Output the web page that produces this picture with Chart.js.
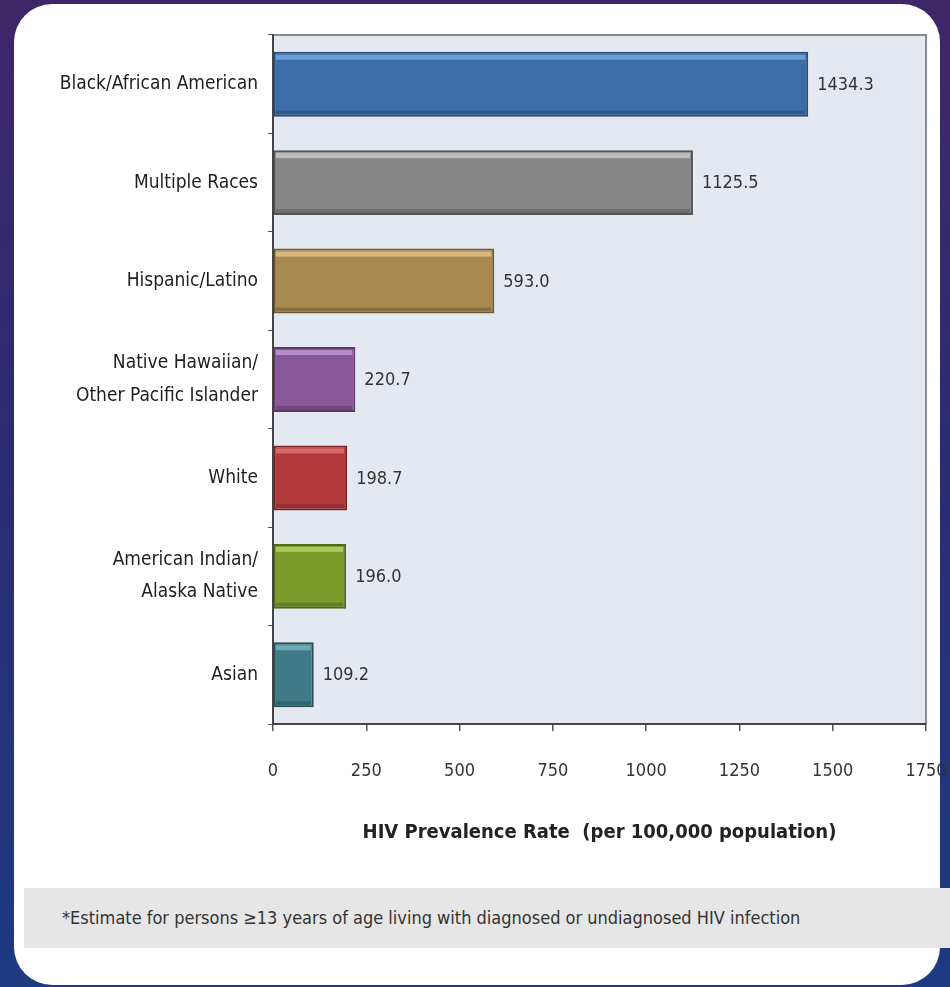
<!DOCTYPE html>
<html>
<head>
<meta charset="utf-8">
<script src="https://cdn.jsdelivr.net/npm/chart.js@4.4.1/dist/chart.umd.min.js"></script>
<style>
  html, body { margin: 0; padding: 0; }
  body {
    width: 950px; height: 987px; overflow: hidden; position: relative;
    background: linear-gradient(to bottom, #3e2668 0%, #2a2c74 50%, #1d3a82 100%);
    font-family: 'Liberation Sans Narrow', 'Arial Narrow', 'DejaVu Sans Condensed', sans-serif;
  }
  #card {
    position: absolute; left: 14px; top: 4px; width: 926px; height: 981px;
    background: #fff; border-radius: 38px;
  }
  #chartWrap { position: absolute; left: 0; top: 0; width: 950px; height: 880px; }
  #note {
    position: absolute; left: 24px; top: 888px; width: 926px; height: 60px;
    background: #e6e6e6; color: #333; font-size: 18px; line-height: 60px;
    padding-left: 38px; box-sizing: border-box;
  }
</style>
</head>
<body>
<div id="card"></div>
<div id="chartWrap"><canvas id="myChart" width="950" height="880"></canvas></div>
<div id="note">*Estimate for persons ≥13 years of age living with diagnosed or undiagnosed HIV infection</div>
<script>
const categories = [
  'Black/African American',
  'Multiple Races',
  'Hispanic/Latino',
  ['Native Hawaiian/', 'Other Pacific Islander'],
  'White',
  ['American Indian/', 'Alaska Native'],
  'Asian'
];
const rates = [1434.3, 1125.5, 593.0, 220.7, 198.7, 196.0, 109.2];
const barColors = ['#3b6ea6', '#878787', '#a8894f', '#8a5899', '#b23a3b', '#7a9a2b', '#3e7b86'];
const highlightColors = ['#6a9fd6', '#bdbdbd', '#d6b87e', '#b48bc4', '#d86a6a', '#a8c85a', '#6fa9b4'];
const edgeColors = ['#274d78', '#555555', '#6e5a32', '#5c3a68', '#7a2626', '#506a1c', '#284f57'];
const xTicks = [0, 250, 500, 750, 1000, 1250, 1500, 1750];

const FONT = "'Liberation Sans Narrow', 'Arial Narrow', 'DejaVu Sans Condensed', sans-serif";

// fundo da área do gráfico e moldura
const plotFrame = {
  id: 'plotFrame',
  beforeDraw(chart) {
    const { ctx, chartArea: a } = chart;
    ctx.save();
    ctx.fillStyle = '#e4e9f1';
    ctx.fillRect(a.left, a.top, a.right - a.left, a.bottom - a.top);
    ctx.strokeStyle = '#8a8a8a';
    ctx.lineWidth = 2;
    ctx.beginPath();
    ctx.moveTo(a.left, a.top);
    ctx.lineTo(a.right, a.top);
    ctx.lineTo(a.right, a.bottom);
    ctx.stroke();
    ctx.restore();
  }
};

// brilho nas barras + rótulos de valor
const barDecor = {
  id: 'barDecor',
  afterDatasetsDraw(chart) {
    const { ctx } = chart;
    const meta = chart.getDatasetMeta(0);
    ctx.save();
    meta.data.forEach((bar, i) => {
      const top = bar.y - bar.height / 2;
      const left = bar.base + 2;
      const w = bar.x - bar.base - 5;
      ctx.fillStyle = highlightColors[i];
      ctx.fillRect(left, top + 3, w, 5);
      ctx.fillStyle = 'rgba(0,0,0,0.18)';
      ctx.fillRect(left, bar.y + bar.height / 2 - 6, w, 4);

      ctx.fillStyle = '#333';
      ctx.font = '18px ' + FONT;
      ctx.textAlign = 'left';
      ctx.textBaseline = 'middle';
      ctx.fillText(rates[i].toFixed(1), bar.x + 9, bar.y + 1);
    });
    ctx.restore();
  }
};

const ctx = document.getElementById('myChart').getContext('2d');
new Chart(ctx, {
  type: 'bar',
  data: {
    labels: categories,
    datasets: [{
      data: rates,
      backgroundColor: barColors,
      borderColor: edgeColors,
      borderWidth: 2,
      borderSkipped: false,
      barPercentage: 0.66,
      categoryPercentage: 1
    }]
  },
  options: {
    indexAxis: 'y',
    responsive: false,
    animation: false,
    layout: { padding: { top: 35, right: 24, left: 0, bottom: 35 } },
    plugins: { legend: { display: false }, tooltip: { enabled: false } },
    scales: {
      x: {
        min: 0, max: 1750,
        afterBuildTicks(scale) { scale.ticks = xTicks.map(v => ({ value: v })); },
        afterFit(scale) {
          scale.height = 880 - 35 - 724;
          scale.paddingLeft = 0;
          scale.paddingRight = 0;
        },
        grid: { drawOnChartArea: false, tickLength: 7, color: '#555', lineWidth: 1.5 },
        border: { color: '#444', width: 2 },
        ticks: {
          color: '#333', font: { family: FONT, size: 18 }, padding: 30, maxRotation: 0,
          callback: v => String(v)
        },
        title: {
          display: true,
          text: 'HIV Prevalence Rate  (per 100,000 population)',
          color: '#222',
          font: { family: FONT, size: 20, weight: 'bold' },
          padding: { top: 0, bottom: 0 }
        }
      },
      y: {
        offset: true,
        afterFit(scale) { scale.width = 273; },
        grid: { drawOnChartArea: false, offset: true, tickLength: 5, color: '#555' },
        border: { color: '#444', width: 2 },
        ticks: { color: '#1e1e1e', font: { family: FONT, size: 19, lineHeight: 1.7 }, padding: 10 }
      }
    }
  },
  plugins: [plotFrame, barDecor]
});
</script>
</body>
</html>
